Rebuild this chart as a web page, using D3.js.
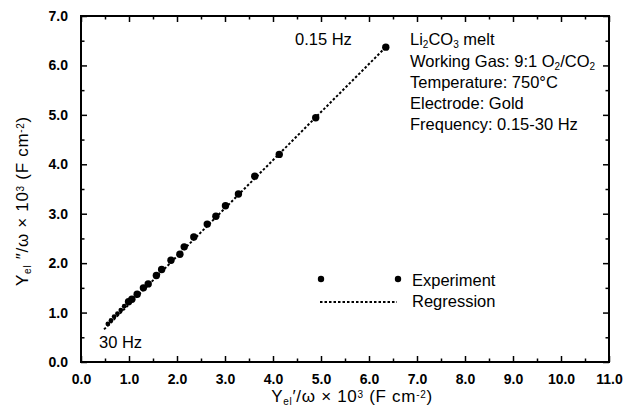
<!DOCTYPE html>
<html>
<head>
  <meta charset="utf-8">
  <script src="https://d3js.org/d3.v7.min.js"></script>
  <style>
    body { margin: 0; background: #fff; }
    svg text { font-family: "Liberation Sans", Arial, sans-serif; fill: #000; }
    .tick text { font-weight: bold; font-size: 14px; }
    .domain { display: none; }
    .tick line { stroke: #000; stroke-width: 1.5; }
  </style>
</head>
<body>
<script>
  // real part (x) and imaginary part (y) of admittance over omega, x10^3
  var yrOverW = [6.35, 4.89, 4.13, 3.62, 3.28, 3.01, 2.81, 2.63, 2.35, 2.15,
                 2.06, 1.875, 1.68, 1.57, 1.40, 1.30, 1.17, 1.06, 0.99, 0.90,
                 0.83, 0.76, 0.69, 0.625, 0.56];
  var yiOverW = [6.37, 4.94, 4.20, 3.76, 3.40, 3.16, 2.95, 2.79, 2.53, 2.33,
                 2.18, 2.06, 1.87, 1.75, 1.58, 1.50, 1.37, 1.27, 1.22, 1.13,
                 1.05, 0.98, 0.92, 0.84, 0.77];
  // regression line end points
  var regX = [0.48, 6.35];
  var regY = [0.66, 6.37];

  var xTicks = d3.range(0, 11.01, 1);
  var yTicks = d3.range(0, 7.01, 1);
  var notes = ["melt", "Working Gas: 9:1", "Temperature: 750\u00b0C", "Electrode: Gold", "Frequency: 0.15-30 Hz"];

  var W = 624, H = 406;
  var pL = 81, pR = 609, pT = 16, pB = 362;

  var x = d3.scaleLinear().domain([0, 11]).range([pL, pR]);
  var y = d3.scaleLinear().domain([0, 7]).range([pB, pT]);

  var svg = d3.select("body").append("svg")
              .attr("width", W).attr("height", H);

  /* axes: major and minor ticks point inward on all four sides */
  var halves = function(n) { return d3.range(0.5, n, 1); };

  svg.append("g").attr("transform", "translate(0," + pB + ")")
     .call(d3.axisBottom(x).tickValues(xTicks).tickSize(-6).tickPadding(12)
             .tickFormat(d3.format(".1f")));
  svg.append("g").attr("transform", "translate(0," + pB + ")")
     .call(d3.axisBottom(x).tickValues(halves(11)).tickSize(-3.5).tickFormat(""));
  svg.append("g").attr("transform", "translate(0," + pT + ")")
     .call(d3.axisTop(x).tickValues(xTicks).tickSize(-6).tickFormat(""));
  svg.append("g").attr("transform", "translate(0," + pT + ")")
     .call(d3.axisTop(x).tickValues(halves(11)).tickSize(-3.5).tickFormat(""));

  svg.append("g").attr("transform", "translate(" + pL + ",0)")
     .call(d3.axisLeft(y).tickValues(yTicks).tickSize(-6).tickPadding(13)
             .tickFormat(d3.format(".1f")));
  svg.append("g").attr("transform", "translate(" + pL + ",0)")
     .call(d3.axisLeft(y).tickValues(halves(7)).tickSize(-3.5).tickFormat(""));
  svg.append("g").attr("transform", "translate(" + pR + ",0)")
     .call(d3.axisRight(y).tickValues(yTicks).tickSize(-6).tickFormat(""));
  svg.append("g").attr("transform", "translate(" + pR + ",0)")
     .call(d3.axisRight(y).tickValues(halves(7)).tickSize(-3.5).tickFormat(""));

  svg.append("rect")
     .attr("x", pL).attr("y", pT)
     .attr("width", pR - pL).attr("height", pB - pT)
     .attr("fill", "none").attr("stroke", "#000").attr("stroke-width", 2);

  /* regression line */
  svg.append("line")
     .attr("x1", x(regX[0])).attr("y1", y(regY[0]))
     .attr("x2", x(regX[1])).attr("y2", y(regY[1]))
     .attr("stroke", "#000").attr("stroke-width", 2)
     .attr("stroke-dasharray", "2.5,2");

  /* experiment points (high-frequency ones are small and crowded) */
  svg.append("g").selectAll("circle")
     .data(d3.zip(yrOverW, yiOverW))
     .enter().append("circle")
     .attr("cx", function(d) { return x(d[0]); })
     .attr("cy", function(d) { return y(d[1]); })
     .attr("r", function(d) { return d[0] < 0.95 ? 2.4 : 3.7; })
     .attr("fill", "#000");

  /* labels */
  var big = 16.5;
  svg.append("text").attr("x", 295).attr("y", 45)
     .style("font-size", big + "px").text("0.15 Hz");
  svg.append("text").attr("x", 99).attr("y", 348)
     .style("font-size", big + "px").text("30 Hz");

  var note = svg.append("g").style("font-size", big + "px");
  var lineY = [45, 67, 88, 109, 130];
  var sub = function(t, s) {
    t.append("tspan").attr("baseline-shift", "-30%").style("font-size", "10px").text(s);
  };
  var t0 = note.append("text").attr("x", 410).attr("y", lineY[0]);
  t0.append("tspan").text("Li");
  sub(t0, "2");
  t0.append("tspan").text("CO");
  sub(t0, "3");
  t0.append("tspan").text(" " + notes[0]);

  var t1 = note.append("text").attr("x", 410).attr("y", lineY[1]);
  t1.append("tspan").text(notes[1] + " O");
  sub(t1, "2");
  t1.append("tspan").text("/CO");
  sub(t1, "2");

  note.append("text").attr("x", 410).attr("y", lineY[2]).text(notes[2]);
  note.append("text").attr("x", 410).attr("y", lineY[3]).text(notes[3]);
  note.append("text").attr("x", 410).attr("y", lineY[4]).text(notes[4]);

  /* legend */
  svg.append("circle").attr("cx", 321).attr("cy", 279).attr("r", 3.2).attr("fill", "#000");
  svg.append("circle").attr("cx", 398).attr("cy", 279).attr("r", 3.2).attr("fill", "#000");
  svg.append("text").attr("x", 412).attr("y", 286)
     .style("font-size", big + "px").text("Experiment");
  svg.append("line").attr("x1", 320).attr("x2", 397).attr("y1", 302).attr("y2", 302)
     .attr("stroke", "#000").attr("stroke-width", 2).attr("stroke-dasharray", "2.5,2");
  svg.append("text").attr("x", 412).attr("y", 307)
     .style("font-size", big + "px").text("Regression");

  /* axis titles */
  var title = function(t, prime) {
    t.style("font-size", "17px").style("letter-spacing", "0.7px");
    t.append("tspan").text("Y");
    t.append("tspan").attr("baseline-shift", "-30%").style("font-size", "10px").text("el");
    t.append("tspan").text(prime + "/\u03c9 \u00d7 10");
    t.append("tspan").attr("baseline-shift", "40%").style("font-size", "10px").text("3");
    t.append("tspan").text(" (F cm");
    t.append("tspan").attr("baseline-shift", "40%").style("font-size", "10px").text("-2");
    t.append("tspan").text(")");
  };
  title(svg.append("text").attr("x", 352).attr("y", 402)
           .attr("text-anchor", "middle"), "\u2032");
  title(svg.append("text")
           .attr("transform", "translate(28,201) rotate(-90)")
           .attr("text-anchor", "middle"), " \u2033");
</script>
</body>
</html>
